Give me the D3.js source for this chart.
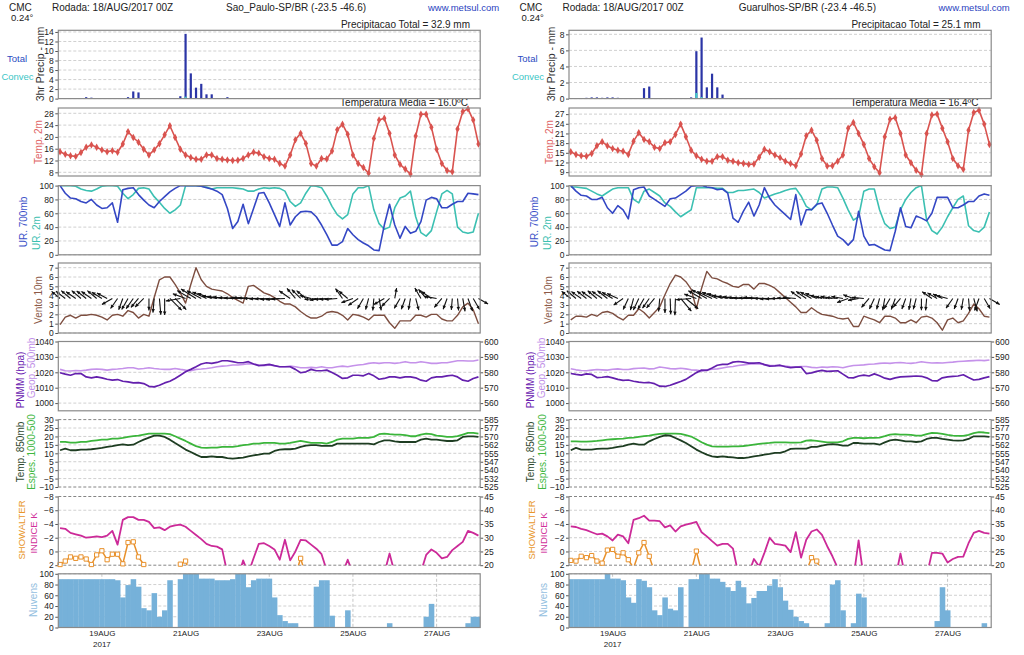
<!DOCTYPE html>
<html><head><meta charset="utf-8">
<script src="https://cdn.jsdelivr.net/npm/d3@7"></script>
<style>body{margin:0;background:#fff;}</style>
</head><body>
<svg id="c" width="1024" height="655"></svg>
<script>
// ---------------- DATA (3-hourly, 18AUG2017 00Z .. 28AUG2017 00Z, 81 steps) ----------------
const tickDays = ["2017-08-19","2017-08-21","2017-08-23","2017-08-25","2017-08-27"];
const tickLabels = ["19AUG","21AUG","23AUG","25AUG","27AUG"];
const precipTicksL = [0,2,4,6,8,10,12,14];
const precipTicksR = [0,2,4,6,8];
const tempTicksL = [8,12,16,20,24,28];
const tempTicksR = [9,12,15,18,21,24,27];
const rhTicks = [0,20,40,60,80,100];
const windTicks = [0,1,2,3,4,5,6,7];
const presTicks = [1000,1010,1020,1030,1040];
const geoTicks = [560,570,580,590,600];
const t850Ticks = [-10,-5,0,5,10,15,20,25,30];
const thickTicks = [525,532.5,540,547.5,555,562.5,570,577.5,585];
const showTicks = [-8,-6,-4,-2,0,2];
const kTicks = [20,25,30,35,40,45];
const cloudTicks = [0,20,40,60,80,100];

// ---- Sao Paulo (left) ----
const precipTotalL = [0,0,0.1,0.1,0,0.3,0.2,0,0.1,0, 0,0,0,0.3,1.5,1.3,0,0,0,0, 0,0,0,0.5,13.6,5.3,2.3,3.1,0.9,0.9,
 0.1,0,0.3,0.1,0.1,0.1,0.1,0,0.1,0.1, 0,0,0,0,0,0,0,0,0,0, 0.1,0.1,0,0,0,0,0,0,0,0, 0,0,0,0,0,0,0,0,0,0, 0,0,0,0,0,0,0,0,0,0,0];
const precipConvL = [0,0,0,0,0,0,0,0,0,0, 0,0,0,0,0,0,0,0,0,0, 0,0,0,0.1,0.4,0.1,0,0,0,0,
 0,0,0,0,0,0,0,0,0,0, 0,0,0,0,0,0,0,0,0,0, 0,0,0,0,0,0,0,0,0,0, 0,0,0,0,0,0,0,0,0,0, 0,0,0,0,0,0,0,0,0,0,0];
const temp2mL = [15.0,14.1,13.6,13.4,14.7,16.5,17.3,16.5,15.6,15.0, 15.3,14.8,17.6,21.8,19.8,18.2,15.8,13.9,15.6,17.7,
 20.7,23.8,19.8,15.8,13.9,13.0,12.4,12.4,13.9,13.9, 12.7,12.4,12.2,12.0,12.1,12.7,13.9,14.8,14.5,13.3,
 12.7,12.4,11.0,10.1,13.9,19.0,21.2,17.8,11.0,10.1, 12.7,12.5,15.2,22.4,24.3,20.9,13.9,11.0,9.6,7.7,
 19.5,25.7,26.3,21.2,13.9,10.7,9.1,7.4,20.3,27.7, 27.7,23.3,15.8,11.0,8.6,8.2,22.7,28.6,29.5,25.7,17.6];
const rh700L = [100,89,82,81,77,75,80,72,67,68, 75,47,94,96,97,87,79,72,68,77, 84,91,96,100,100,100,100,99,97,95,
 92,87,67,38,48,73,45,67,89,90, 75,58,41,75,43,55,62,63,62,55, 43,29,14,14,19,38,29,22,17,13,
 7,6,43,73,43,24,41,31,34,48, 79,83,81,68,68,73,77,77,89,88,87];
const rh2mL = [100,100,100,99,95,93,92,95,99,100, 100,99,89,81,87,96,97,95,84,76, 67,60,65,72,100,100,100,99,98,95,
 97,97,97,97,96,95,92,92,95,97, 96,97,96,92,77,70,75,89,100,99, 97,85,70,58,52,58,88,97,97,100,
 65,45,37,40,68,82,85,92,55,32, 27,35,62,88,93,88,40,33,31,33,60];
const windSpdL = [0.9,1.7,1.9,1.6,1.9,1.9,2.0,1.9,1.7,1.4, 1.9,2.0,1.8,2.4,2.2,1.6,2.0,1.8,3.8,5.7,
 6.0,6.0,5.2,4.3,3.2,5.2,7.0,5.7,5.0,4.7, 4.6,4.5,4.2,3.8,3.5,3.2,5.0,5.1,4.7,4.3,
 4.1,3.8,3.4,3.1,3.1,2.8,2.3,1.9,1.6,1.6, 1.8,2.2,2.3,2.2,1.9,1.4,2.0,1.9,1.7,1.4,
 1.9,1.9,1.9,1.1,0.5,1.3,1.3,1.3,1.9,1.9, 1.7,2.0,2.0,1.5,1.3,1.3,1.9,2.8,3.2,2.5,1.0];
const windDirL = [140,142,140,145,140,142,145,140,148,152, 210,235,250,240,235,230,225,270,265,275,
 270,315,315,190,160,150,148,152,155,160, 170,172,174,176,178,178,176,178,180,182,
 182,184,185,183,145,130,135,140,165,185, 188,185,185,185,125,140,200,215,240,255,
 265,280,210,225,80,240,250,260,285,120, 130,145,170,230,250,265,275,280,290,300,330];
const pnmmL = [1019.7,1018.8,1018.1,1019.2,1019.2,1017.0,1016.4,1017.0,1016.4,1015.5,
 1014.9,1015.3,1014.2,1013.8,1013.1,1013.3,1012.7,1010.9,1010.5,1011.6,
 1013.1,1014.2,1016.0,1018.1,1020.3,1021.9,1023.6,1025.4,1026.2,1025.8,
 1026.4,1027.5,1027.5,1026.9,1026.2,1026.2,1026.9,1025.4,1024.3,1024.7,
 1025.1,1024.3,1023.6,1023.6,1023.6,1021.9,1019.7,1020.3,1021.9,1021.0,
 1021.0,1021.4,1019.9,1018.1,1016.0,1016.4,1018.1,1018.1,1017.7,1019.2,
 1017.7,1015.5,1016.0,1017.0,1017.0,1016.4,1017.0,1017.0,1016.4,1014.9,
 1014.2,1016.4,1017.0,1017.0,1017.7,1018.1,1017.0,1014.9,1014.2,1016.0,1017.0];
const geo500L = [581.9,581.0,580.8,581.2,581.0,581.4,581.9,582.1,581.9,581.4, 581.9,582.1,582.5,583.0,583.0,582.1,582.5,583.0,582.5,582.1,
 581.9,581.9,582.5,581.9,581.4,581.0,581.9,582.1,582.5,583.0, 583.6,584.0,584.3,584.7,584.7,585.1,585.6,585.4,584.7,584.3,
 584.7,584.3,583.6,583.6,584.0,583.6,583.0,583.0,583.2,583.0, 583.6,583.0,583.0,583.6,584.0,583.6,584.3,584.7,585.1,585.8,
 586.2,585.8,586.2,586.2,585.8,586.2,586.9,586.2,586.2,586.9, 586.4,585.8,585.8,586.2,586.2,586.9,587.5,587.5,587.3,587.3,588.0];
const t850L = [11.8,12.8,11.8,11.8,12.2,12.2,12.4,12.8,13.2,13.8, 14.2,14.8,15.3,14.8,15.1,16.7,18.1,19.3,20.5,20.5,
 19.7,18.1,16.1,14.2,12.2,10.8,9.2,7.8,7.8,8.2, 7.8,7.8,7.2,6.8,7.2,7.4,8.2,8.8,9.2,9.8,
 9.8,11.4,12.2,12.4,12.4,12.8,13.8,14.6,14.8,14.8, 14.4,14.4,14.4,15.7,15.7,15.7,15.7,15.7,15.7,15.7,
 15.3,16.7,17.7,17.7,17.1,16.7,16.7,16.7,16.7,18.1, 18.7,18.1,18.1,17.7,17.3,17.3,17.7,19.7,20.1,20.1,19.7];
const thickL = [565.1,565.1,564.5,564.5,565.1,565.1,566,566.6,567.2,567.2, 568.1,568.1,568.7,569.6,570.2,570.8,571.7,572.6,572.6,572.6,
 572.6,572,570.2,568.1,566,563.6,561.3,560.1,559.8,560.1, 560.1,560.7,560.7,560.7,561.3,562.2,562.7,563.6,563.6,564.2,
 564.2,564.2,563.6,563.6,564.2,565.1,566,565.1,564.2,564.2, 564.2,563.6,565.1,567.2,568.1,568.1,568.1,568.7,568.7,568.7,
 569.6,572,572.6,572,571.7,571.7,571.1,570.2,570.2,571.7, 572.6,572,570.8,570.2,569.6,569.6,570.2,571.7,573.2,573.2,572.6];
const showalterL = [1.9,1.4,0.8,1.0,0.8,1.1,1.9,0.5,-0.1,1.2, 0.4,0.4,1.8,-1.3,-1.4,0.8,1.9,3.5,4,4,
 4,4,3.5,1.85,1.4,3.5,4,4,4,4, 4,4,4,4,4,4,4,4,4,4, 4,4,4,4,4,3.5,1.0,3.5,4,4,
 4,4,4,4,4,4,4,4,4,4, 4,4,4,4,4,4,4,4,4,4, 4,4,4,4,4,4,4,4,4,4,4];
const kIndexL = [33.5,33.25,31.75,31.25,30.75,30.0,30.25,30.5,30.25,30.75, 32.5,27.5,36.5,37.5,37.5,36.5,36.5,35.75,33.5,33.75,
 32.75,34.0,34.5,34.75,34.0,32.5,31.0,29.5,27.75,27.0, 26.75,25.75,17,15,15,21.75,17,22.5,27.75,28.0,
 27.0,25.75,22.0,29.25,21.75,25.0,29.25,29.0,27.5,26.0, 24.0,18,15,15,17,22.0,17,15,15,15,
 15,15,17,24.25,17,15,15,15,15,17.5, 23.75,25.75,24.5,22.5,23.0,25.5,27.0,28.5,32.5,31.75,30.75];
const cloudsL = [90,90,90,90,90,90,90,90,90,90, 90,88,56,79,90,76,36,32,64,20, 32,88,0,90,100,100,100,91,91,91,
 88,88,88,90,100,100,75,88,91,91, 91,56,23,12,8,8,0,0,0,76, 88,88,22,0,0,32,0,0,0,0,
 0,0,0,8,0,0,0,0,0,0, 20,44,0,0,0,0,0,0,8,20,20];

// ---- Guarulhos (right) ----
const precipTotalR = [0,0,0,0.1,0.15,0.15,0.1,0.15,0.15,0.1, 0.05,0,0,0.05,1.3,1.5,0,0,0,0, 0,0,0,0.15,5.9,7.6,1.4,3.1,1.4,0.5,
 0.05,0,0.05,0.05,0,0,0,0,0,0, 0.05,0,0,0,0,0,0,0,0,0, 0.05,0.05,0,0,0,0,0,0,0,0, 0,0,0,0,0,0,0,0,0,0, 0,0,0,0,0,0,0,0,0,0,0];
const precipConvR = [0,0,0,0,0,0,0,0,0,0, 0,0,0,0,0,0,0,0,0,0, 0,0,0,0,0.7,0.2,0,0,0,0,
 0,0,0,0,0,0,0,0,0,0, 0,0,0,0,0,0,0,0,0,0, 0,0,0,0,0,0,0,0,0,0, 0,0,0,0,0,0,0,0,0,0, 0,0,0,0,0,0,0,0,0,0,0];
const temp2mR = [15.3,14.5,14.1,13.9,14.8,17.2,18.4,17.2,16.3,15.8, 15.5,14.5,18.6,21.2,19.1,18.4,16.7,16.3,18.1,18.4,
 20.7,23.9,20.0,15.8,14.1,13.0,12.4,12.4,13.8,13.8, 12.7,12.4,11.9,11.7,11.4,11.5,13.6,16.1,15.3,14.3,
 13.5,12.4,11.7,11.0,14.6,20.3,22.0,18.9,13.2,10.9, 11.0,12.4,14.3,22.6,24.4,21.0,17.6,13.2,10.7,8.8,
 20.0,25.4,25.9,21.0,14.3,11.9,9.6,8.3,21.0,26.7, 27.0,22.6,18.4,13.2,11.0,9.9,22.0,27.5,28.2,23.9,17.6];
const rh700R = [100,92,86,85,80,80,83,68,60,71, 65,52,94,97,98,85,80,75,70,81, 82,87,92,99,100,100,98,97,94,95,
 89,53,47,63,76,56,72,97,82,72, 65,58,51,87,43,65,65,73,75,60, 43,27,22,14,22,63,27,14,15,11,
 7,6,34,68,41,39,56,53,49,60, 83,83,83,68,68,72,77,77,85,88,86];
const rh2mR = [98,98,97,96,92,88,85,90,95,97, 97,97,80,75,92,95,90,85,75,70, 62,55,60,65,97,97,97,97,96,96,
 90,90,93,93,94,95,90,82,85,88, 90,93,95,96,85,70,65,72,95,98, 98,97,82,65,50,55,92,95,95,65,
 45,38,40,65,80,90,97,100,50,35, 30,40,55,68,80,85,42,35,33,40,62];
const windSpdR = [1.4,1.8,1.8,1.7,2.0,1.8,2.2,2.3,2.1,1.7, 1.4,1.9,1.9,2.6,2.2,1.6,2.2,2.8,4.1,5.3,
 6.2,6.0,5.5,4.7,2.6,4.8,6.6,5.9,5.8,5.5, 5.3,5.0,4.9,5.2,5.2,4.7,5.3,5.3,5.1,4.8,
 4.3,3.8,3.3,2.8,2.2,2.2,2.7,2.3,2.0,1.9, 1.8,1.6,1.5,1.6,0.7,0.7,1.8,1.6,1.4,1.1,
 1.8,1.8,1.6,1.1,1.1,1.4,1.1,1.7,1.8,1.6, 1.1,0.3,1.4,1.6,1.1,1.3,2.1,3.1,2.6,1.8,1.7];
const windDirR = [142,140,145,142,145,140,145,142,150,155, 215,245,255,245,240,235,230,265,270,272,
 268,310,320,185,160,150,150,155,158,162, 168,172,174,176,178,178,176,178,180,182,
 182,180,178,175,145,145,150,155,165,172, 170,175,170,200,160,190,175,230,245,255,
 260,240,250,230,250,260,255,270,265,145, 150,155,165,235,250,260,275,285,250,300,330];
const pnmmR = [1019.2,1018.6,1018.2,1019.0,1018.6,1016.6,1016.8,1017.2,1016.4,1015.4,
 1014.8,1015.0,1014.2,1013.6,1013.2,1013.4,1012.6,1011.0,1010.8,1011.6,
 1012.8,1014.0,1015.4,1017.6,1019.8,1021.4,1021.2,1022.8,1024.6,1025.2,
 1025.2,1026.6,1027.0,1026.6,1026.0,1026.0,1026.2,1025.0,1024.0,1024.2,
 1024.6,1023.6,1023.0,1023.4,1023.4,1019.2,1019.6,1020.6,1021.2,1020.6,
 1020.8,1021.0,1018.8,1016.6,1016.4,1017.6,1018.2,1017.6,1019.0,1017.8,
 1016.2,1015.4,1016.4,1017.0,1017.2,1017.4,1017.6,1017.4,1016.4,1014.6,
 1014.4,1016.4,1017.0,1017.4,1017.6,1018.4,1016.6,1015.0,1015.4,1016.4,1017.2];
const geo500R = [582.3,581.6,581.2,581.0,581.4,581.8,581.6,581.4,582.0,582.2, 581.8,581.8,582.4,582.6,582.8,582.2,582.4,583.4,583.0,582.4,
 582.2,582.6,582.2,581.6,581.4,580.8,581.6,582.0,582.2,582.8, 583.4,583.8,584.4,584.8,585.2,585.6,585.4,585.0,584.6,584.4,
 584.2,584.0,583.6,583.4,583.8,583.8,583.2,583.0,583.4,583.2, 583.6,583.4,583.0,583.8,584.4,584.6,584.8,585.2,585.4,585.8,
 586.0,585.8,586.2,586.4,586.0,585.8,586.2,586.8,586.4,586.0, 586.2,586.0,586.4,586.6,587.0,587.2,587.4,587.6,587.8,587.6,588.0];
const t850R = [11.8,13.2,12.2,12.2,12.2,12.6,12.8,12.8,13.2,13.8, 14.2,15.1,15.7,15.1,15.1,17.1,18.5,19.7,20.7,20.5,
 19.1,17.7,16.1,14.2,12.2,10.6,9.2,8.2,7.8,8.2, 7.8,7.6,7.2,7.2,7.6,8.2,8.6,9.2,9.6,10.2,
 10.2,11.2,12.6,12.8,12.8,12.8,13.8,13.8,14.6,15.1, 15.5,15.1,14.6,14.6,16.1,16.1,15.7,15.7,15.7,15.1,
 16.5,17.7,18.1,17.7,17.1,17.1,16.7,17.1,18.5,19.1, 19.1,18.5,18.1,17.7,17.5,17.7,18.5,20.1,20.1,20.1,19.7];
const thickR = [565.7,565.7,565.4,565.4,565.7,566,566.6,567.2,567.5,567.8, 568.1,568.7,569,569.6,570.2,570.8,571.7,572.3,572.6,572.6,
 572.6,572.3,571.1,569.9,567.5,564.8,562.7,561.2,560.9,560.9, 560.9,561.2,561.2,561.5,562.1,562.7,563.3,563.9,564.2,564.8,
 564.8,564.8,564.5,564.5,564.8,566.3,566.6,566,565.4,564.8, 564.8,564.8,565.7,567.8,568.7,568.7,568.4,568.7,568.7,569,
 570.2,571.7,572,571.7,571.7,571.4,570.8,570.8,572,573.2, 572.9,572.3,571.4,570.8,570.5,570.5,571.4,572.9,573.8,573.5,572.9];
const showalterR = [1.3,1.4,0.7,0.9,0.6,1.4,1.7,-0.2,-0.3,0.7, 0.2,1.2,2.4,0.2,-1.3,0.7,3,4,4,4,
 4,4,4,3,-0.05,3,4,4,4,4, 4,4,4,4,4,4,4,4,4,4, 4,4,4,4,4,3,0.9,1.4,3,4,
 4,4,4,4,4,4,4,4,4,4, 4,4,4,4,4,4,4,4,4,4, 4,4,4,4,4,4,4,4,4,4,4];
const kIndexR = [34.1,33.9,33.25,32.75,32.0,31.25,31.5,30.5,29.0,31.1, 30.5,28.0,36.5,37.1,38.0,36.25,36.25,36.0,33.75,34.5,
 32.25,34.1,34.75,35.25,35.75,32.0,30.5,28.75,27.1,27.75, 27.75,26.0,17,15,17,22.25,19.5,24.5,30.0,27.75,
 27.5,27.1,24.75,32.0,22.75,29.25,32.25,33.0,31.0,26.9, 23.25,19,15,15,15,29.0,15,15,15,15,
 15,15,15,24.25,15,15,15,15,16,24.5, 24.5,24.25,21.0,22.25,23.0,23.1,28.0,31.75,32.5,31.75,31.5];
const cloudsR = [90,90,90,90,90,90,90,100,91,91, 88,56,46,90,87,75,32,23,56,35, 32,75,0,90,90,100,100,91,91,85,
 75,68,87,75,45,55,68,68,78,90, 75,50,33,20,12,8,0,0,0,8, 80,88,32,0,8,63,56,0,0,0,
 0,0,0,0,0,0,0,0,0,0, 12,75,32,0,0,0,0,0,0,8,0];

// ---------------- LAYOUT ----------------
const FONT = '"Liberation Sans", Arial, Helvetica, sans-serif';
const times = d3.range(81).map(i => new Date(Date.UTC(2017,7,18) + i*3*3600000));
const P = {precip:[30.3,98.6], temp:[108,176], rh:[185.6,254.8], wind:[263,333],
           pres:[341.5,410.8], t850:[419.6,487], show:[496.5,565.2], cloud:[573.8,627.5]};
const svg = d3.select("#c");

const sides = [
 {id:"L", x0:58.3, x1:480.2, off:0, stationX:226, station:"Sao_Paulo-SP/BR (-23.5 -46.6)", ptot:"32.9", tmean:"16.0",
  pTot:precipTotalL, pConv:precipConvL, pDom:[0,14.35], pTicks:precipTicksL, temp:temp2mL, tDom:[6.75,29.8], tTicks:tempTicksL,
  rh700:rh700L, rh2m:rh2mL, wspd:windSpdL, wdir:windDirL, pnmm:pnmmL, geo:geo500L, t850:t850L, thick:thickL,
  sho:showalterL, kk:kIndexL, cld:cloudsL},
 {id:"R", x0:569.0, x1:991.2, off:510.5, stationX:738.7, station:"Guarulhos-SP/BR (-23.4 -46.5)", ptot:"25.1", tmean:"16.4",
  pTot:precipTotalR, pConv:precipConvR, pDom:[0,8.5], pTicks:precipTicksR, temp:temp2mR, tDom:[7.8,28.9], tTicks:tempTicksR,
  rh700:rh700R, rh2m:rh2mR, wspd:windSpdR, wdir:windDirR, pnmm:pnmmR, geo:geo500R, t850:t850R, thick:thickR,
  sho:showalterR, kk:kIndexR, cld:cloudsR}
];

function styleAxis(a, fs){
  a.attr("font-family",FONT).attr("font-size",fs||8.5);
  a.select(".domain").remove();
  a.selectAll(".tick line").attr("stroke","#555");
  a.selectAll(".tick text").attr("fill","#222");
}
function txt(g,x,y,s,o={}){
  return g.append("text").attr("x",x).attr("y",y).text(s)
    .attr("font-family",FONT).attr("font-size",o.size||10).attr("fill",o.color||"#222")
    .attr("text-anchor",o.anchor||"start");
}
function vtxt(g,x,cy,s,color,size){
  g.append("text").attr("transform",`translate(${x},${cy}) rotate(-90)`).text(s)
   .attr("font-family",FONT).attr("font-size",size||10).attr("fill",color)
   .attr("text-anchor","middle").attr("dominant-baseline","central");
}

function drawSide(S){
  const g = svg.append("g");
  const x = d3.scaleUtc().domain([new Date(+times[0]-3600000), new Date(+times[80]+3600000)]).range([S.x0,S.x1]);
  const X = i => x(times[i]);
  const step = X(1)-X(0);
  const o = S.off;

  function panel(key, dom, ticks, opt={}){
    const [top,bot] = P[key];
    const y = d3.scaleLinear().domain(dom).range(opt.reverse?[top,bot]:[bot,top]);
    g.append("g").selectAll("line").data(ticks).join("line")
      .attr("x1",S.x0).attr("x2",S.x1).attr("y1",d=>y(d)).attr("y2",d=>y(d))
      .attr("stroke",d=> (opt.noBox && (d===ticks[0]||d===ticks[ticks.length-1])) ? "#666" : "#c4c4c4")
      .attr("stroke-width",0.8).attr("stroke-dasharray","3,2");
    if(opt.vgrid){
      g.append("g").selectAll("line").data(tickDays).join("line")
        .attr("x1",d=>x(new Date(d+"T00:00:00Z"))).attr("x2",d=>x(new Date(d+"T00:00:00Z")))
        .attr("y1",top).attr("y2",bot).attr("stroke","#b8b8b8").attr("stroke-width",0.8).attr("stroke-dasharray","3,2");
    }
    const id = "clip"+S.id+key;
    g.append("clipPath").attr("id",id).append("rect").attr("x",S.x0).attr("y",top).attr("width",S.x1-S.x0).attr("height",bot-top);
    const ax = g.append("g").attr("transform",`translate(${S.x0},0)`)
      .call(d3.axisLeft(y).tickValues(ticks).tickSize(3).tickPadding(1.5).tickFormat(opt.fmt||d3.format("d")));
    styleAxis(ax);
    return {y, clip:`url(#${id})`, top, bot, frame:()=>{
      if(!opt.noBox){
        g.append("rect").attr("x",S.x0).attr("y",top).attr("width",S.x1-S.x0).attr("height",bot-top)
          .attr("fill","none").attr("stroke","#8a8a8a").attr("stroke-width",1.2);
      } else {
        [S.x0,S.x1].forEach(xx=>g.append("line").attr("x1",xx).attr("x2",xx).attr("y1",top).attr("y2",bot)
          .attr("stroke","#8a8a8a").attr("stroke-width",1.2));
      }
    }};
  }
  function rightAxis(key, dom, ticks, fmt, reverse){
    const [top,bot] = P[key];
    const y = d3.scaleLinear().domain(dom).range(reverse?[top,bot]:[bot,top]);
    const ax = g.append("g").attr("transform",`translate(${S.x1},0)`)
      .call(d3.axisRight(y).tickValues(ticks).tickSize(3).tickPadding(1).tickFormat(fmt||d3.format("d")));
    styleAxis(ax);
    return y;
  }
  function line(arr, y, clip, color, w){
    g.append("path").datum(arr).attr("clip-path",clip)
      .attr("d", d3.line().x((d,i)=>X(i)).y(d=>y(d)))
      .attr("fill","none").attr("stroke",color).attr("stroke-width",w||1.6).attr("stroke-linejoin","round");
  }

  // ---- header ----
  txt(g,9+o,11,"CMC");
  txt(g,11+o,21,"0.24°",{size:9.5});
  txt(g,52+o,11,"Rodada: 18/AUG/2017 00Z");
  txt(g,S.stationX,11,S.station);
  txt(g,428+o,11,"www.metsul.com",{color:"#2a3fc0",size:9.5});
  txt(g,470+o,28,`Precipitacao Total = ${S.ptot} mm`,{anchor:"end"});
  txt(g,468+o,106,`Temperatura Media = ${S.tmean}ºC`,{anchor:"end"});

  // ---- precip ----
  const pp = panel("precip", S.pDom, S.pTicks);
  g.append("g").attr("clip-path",pp.clip).selectAll("rect").data(S.pTot).join("rect")
    .attr("x",(d,i)=>X(i)-1.1).attr("width",2.2).attr("y",d=>pp.y(d)).attr("height",d=>pp.bot-pp.y(d)).attr("fill","#2b35a6");
  g.append("g").attr("clip-path",pp.clip).selectAll("rect").data(S.pConv).join("rect")
    .attr("x",(d,i)=>X(i)-1.1).attr("width",2.2).attr("y",d=>pp.y(d)).attr("height",d=>pp.bot-pp.y(d)).attr("fill","#45c8c8");
  pp.frame();
  vtxt(g,40+o,64,"3hr Precip - mm","#333",10.5);
  txt(g,17+o,62,"Total",{anchor:"middle",color:"#2b4cc2",size:9.5});
  txt(g,17.5+o,80,"Convec",{anchor:"middle",color:"#3cc6c6",size:9.5});

  // ---- temp 2m ----
  const tp = panel("temp", S.tDom, S.tTicks);
  line(S.temp, tp.y, tp.clip, "#d9534f", 1.6);
  g.append("g").selectAll("path").data(S.temp).join("path")
    .attr("transform",(d,i)=>`translate(${X(i)},${tp.y(d)})`)
    .attr("d", d3.symbol(d3.symbolDiamond, 16)).attr("fill","#d9534f");
  tp.frame();
  vtxt(g,38.5+o,142,"Temp. 2m","#e06464");

  // ---- RH ----
  const rp = panel("rh", [0,100], rhTicks);
  line(S.rh2m, rp.y, rp.clip, "#3cc0b2", 1.6);
  line(S.rh700, rp.y, rp.clip, "#3447c4", 1.6);
  rp.frame();
  vtxt(g,23.5+o,222,"UR. 700mb","#3a4fc8");
  vtxt(g,36.5+o,233,"UR. 2m","#3cc0b0");

  // ---- wind ----
  const wp = panel("wind", [0,7.5], windTicks);
  line(S.wspd, wp.y, wp.clip, "#7d4e40", 1.4);
  const yb = wp.y(3.7);
  const arrows = g.append("g");
  S.wdir.forEach((a,i)=>{
    const r = a*Math.PI/180, L = 10 + 1.1*S.wspd[i];
    const x1 = X(i), y1 = yb, x2 = x1 + L*Math.cos(r), y2 = y1 - L*Math.sin(r);
    arrows.append("line").attr("x1",x1).attr("y1",y1).attr("x2",x2).attr("y2",y2).attr("stroke","#111").attr("stroke-width",1.1);
    const h=4, sp=0.45;
    const p1=[x2 - h*Math.cos(r-sp), y2 + h*Math.sin(r-sp)], p2=[x2 - h*Math.cos(r+sp), y2 + h*Math.sin(r+sp)];
    arrows.append("path").attr("d",`M${x2},${y2}L${p1[0]},${p1[1]}L${p2[0]},${p2[1]}Z`).attr("fill","#111");
  });
  wp.frame();
  vtxt(g,38+o,300,"Vento 10m","#8c5a48");

  // ---- pressure ----
  const prp = panel("pres", [995,1040], presTicks);
  const yg = rightAxis("pres", [555,600], geoTicks);
  line(S.geo, yg, prp.clip, "#c592ea", 1.6);
  line(S.pnmm, prp.y, prp.clip, "#6420ad", 1.7);
  prp.frame();
  vtxt(g,20+o,380,"PNMM (hpa)","#6a22b0");
  vtxt(g,31+o,368,"Geop. 500mb","#c090e8");

  // ---- T850 / thickness ----
  const t8 = panel("t850", [-10,30], t850Ticks, {noBox:true});
  const yth = rightAxis("t850", [525,585], thickTicks, d=>String(Math.floor(d)));
  line(S.thick, yth, t8.clip, "#3bb53b", 1.8);
  line(S.t850, t8.y, t8.clip, "#1e3d22", 1.8);
  t8.frame();
  vtxt(g,20+o,452,"Temp. 850mb","#2f4a2f");
  vtxt(g,31.5+o,452,"Espes. 1000-500","#3fb83f");

  // ---- Showalter / K ----
  const sp = panel("show", [-8,2], showTicks, {noBox:true, reverse:true});
  const yk = rightAxis("show", [20,45], kTicks);
  line(S.kk, yk, sp.clip, "#cc2a98", 1.8);
  line(S.sho, sp.y, sp.clip, "#e8902a", 1.5);
  g.append("g").selectAll("path").data(S.sho.map((v,i)=>({v,i})).filter(d=>d.v<=2.05)).join("path")
    .attr("transform",d=>`translate(${X(d.i)},${sp.y(d.v)})`)
    .attr("d", d3.symbol(d3.symbolSquare, 18)).attr("fill","#fff").attr("stroke","#e8902a").attr("stroke-width",1);
  sp.frame();
  vtxt(g,21+o,530,"SHOWALTER","#e8962a",9.5);
  vtxt(g,33+o,533,"INDICE K","#d0309a",9.5);

  // ---- clouds ----
  const cp = panel("cloud", [0,100], cloudTicks, {vgrid:true});
  g.append("g").attr("clip-path",cp.clip).selectAll("rect").data(S.cld).join("rect")
    .attr("x",(d,i)=>X(i)-step/2).attr("width",step+0.3).attr("y",d=>cp.y(d)).attr("height",d=>cp.bot-cp.y(d)).attr("fill","#76b1d9");
  cp.frame();
  vtxt(g,33+o,600,"Nuvens","#92bee0");

  // ---- x axis labels ----
  const xa = g.append("g").attr("transform",`translate(0,${P.cloud[1]})`)
    .call(d3.axisBottom(x).tickValues(tickDays.map(d=>new Date(d+"T00:00:00Z"))).tickSize(0).tickPadding(3)
      .tickFormat((d,i)=>tickLabels[i]));
  styleAxis(xa, 8);
  txt(g,x(new Date(tickDays[0]+"T00:00:00Z")),646.5,"2017",{anchor:"middle",size:8});
}
sides.forEach(drawSide);
</script>
</body></html>
